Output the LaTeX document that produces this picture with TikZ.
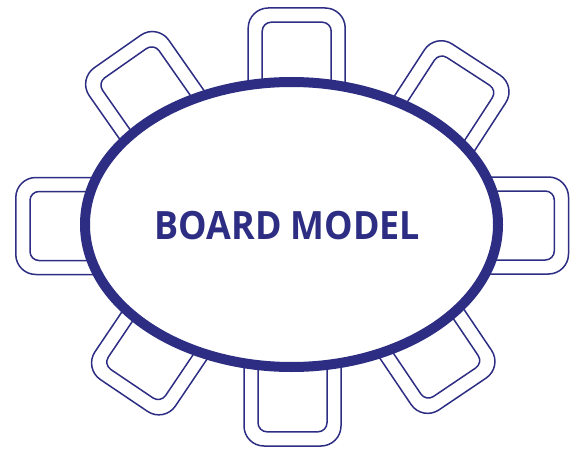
\documentclass[tikz,border=0pt]{standalone}
\usepackage{fontspec}
\setmainfont{Open Sans}
\definecolor{navy}{RGB}{45,46,131}
\begin{document}
\begin{tikzpicture}[x=1pt,y=1pt,
  chairline/.style={draw=navy,line width=1.5pt},
  tablestyle/.style={draw=navy,line width=10pt,fill=white},
  chair/.pic={
    \draw[chairline,rounded corners=20pt] (-48.5,-115) -- (-48.5,0) -- (48.5,0) -- (48.5,-115);
    \draw[chairline,rounded corners=9pt] (-34.5,-115) -- (-34.5,-14.2) -- (34.5,-14.2) -- (34.5,-115);
  }]
\useasboundingbox (0,0) rectangle (573,448);
% chairs
\pic (chairT)  at (296.7,440)  {chair};
\pic[rotate=180] (chairB) at (292.5,2) {chair};
\pic[rotate=90]  (chairL) at (15.8,222) {chair};
\pic[rotate=-90] (chairR) at (568.5,222.5) {chair};
\pic[rotate=35]  (chairTL) at (117.5,396.5) {chair};
\pic[rotate=-33] (chairTR) at (476,388.5) {chair};
\pic[rotate=146] (chairBL) at (124,52.5) {chair};
\pic[rotate=-146] (chairBR) at (462.5,54) {chair};
% table
\draw[tablestyle] (291.5,223.5) ellipse [x radius=206.5, y radius=142.5];
\node[text=navy,xscale=0.92,font=\fontsize{39}{40}\selectfont\bfseries] (title) at (287.5,222) {BOARD MODEL};
\end{tikzpicture}
\end{document}
